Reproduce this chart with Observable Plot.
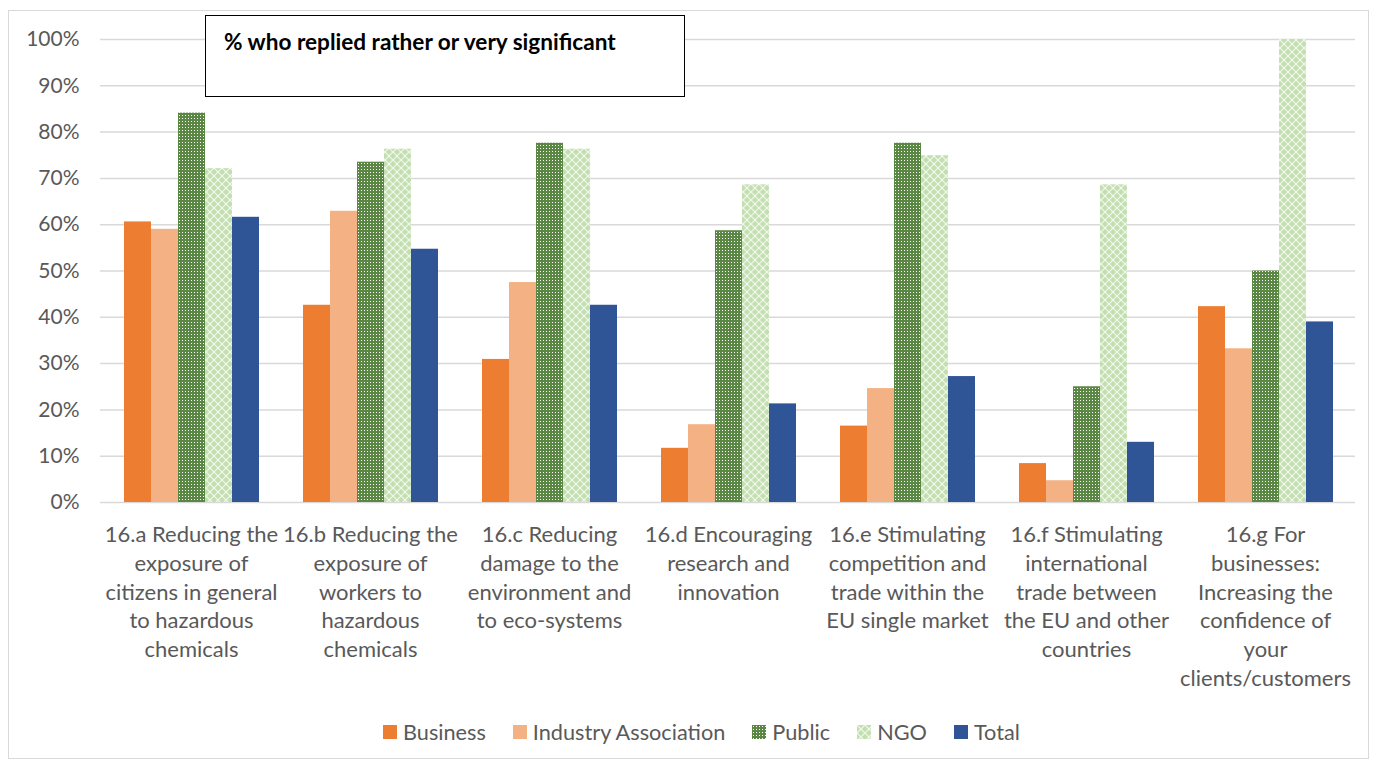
<!DOCTYPE html>
<html>
<head>
<meta charset="utf-8">
<script src="https://cdn.jsdelivr.net/npm/d3@7"></script>
<script src="https://cdn.jsdelivr.net/npm/@observablehq/plot@0.6"></script>
<style>
  html, body { margin: 0; padding: 0; background: #ffffff; }
  #wrap { position: relative; width: 1375px; height: 764px; overflow: hidden; font-family: Lato, "Open Sans", sans-serif; }
  #frame { position: absolute; left: 8px; top: 10px; width: 1361px; height: 749px; border: 1px solid #d9d9d9; box-sizing: border-box; }
  .layer { position: absolute; left: 0; top: 0; }
  #titlebox { position: absolute; left: 205px; top: 15px; width: 480px; height: 82px; border: 1.5px solid #000; background: #fff; box-sizing: border-box; }
  #titlebox span { position: absolute; left: 18px; top: 12px; font-weight: bold; font-size: 22.6px; color: #000; white-space: nowrap; font-family: Lato, sans-serif; }
  #legend { position: absolute; left: 383px; top: 719px; display: flex; align-items: center; font-size: 21.7px; color: #595959; white-space: nowrap; }
  #legend .item { display: flex; align-items: center; margin-right: 27px; }
  #legend svg { margin-right: 6px; display: block; }
</style>
</head>
<body>
<svg width="0" height="0" style="position:absolute">
  <defs>
    <pattern id="patPublic" width="3" height="3" patternUnits="userSpaceOnUse">
      <rect width="3" height="3" fill="#5b8744"></rect>
      <rect x="1" y="1" width="1" height="1" fill="#ffffff"></rect>
    </pattern>
    <pattern id="patNGO" width="8" height="8" patternUnits="userSpaceOnUse">
      <rect width="8" height="8" fill="#c3dfb0"></rect>
      <path d="M0,0 L8,8 M8,0 L0,8" stroke="#ffffff" stroke-width="1.2" stroke-opacity="0.75"></path>
      <rect x="3.5" y="3.5" width="1" height="1" fill="#ffffff"></rect>
    </pattern>
  </defs>
</svg>
<div id="wrap">
  <div id="frame"></div>
  <div id="bg" class="layer"></div>
  <div id="fg" class="layer"></div>
  <div id="titlebox"><span>% who replied rather or very significant</span></div>
  <div id="legend"></div>
</div>
<script>
const categories = ["16.a", "16.b", "16.c", "16.d", "16.e", "16.f", "16.g"];
const categoryLabels = [
  "16.a Reducing the\nexposure of\ncitizens in general\nto hazardous\nchemicals",
  "16.b Reducing the\nexposure of\nworkers to\nhazardous\nchemicals",
  "16.c Reducing\ndamage to the\nenvironment and\nto eco-systems",
  "16.d Encouraging\nresearch and\ninnovation",
  "16.e Stimulating\ncompetition and\ntrade within the\nEU single market",
  "16.f Stimulating\ninternational\ntrade between\nthe EU and other\ncountries",
  "16.g For\nbusinesses:\nIncreasing the\nconfidence of\nyour\nclients/customers"
];
const series = ["Business", "Industry Association", "Public", "NGO", "Total"];
const business            = [60.6, 42.6, 30.9, 11.7, 16.5, 8.4, 42.3];
const industryAssociation = [59.0, 62.9, 47.5, 16.8, 24.6, 4.7, 33.2];
const publicBodies        = [84.1, 73.5, 77.6, 58.7, 77.6, 25.0, 50.0];
const ngo                 = [72.1, 76.3, 76.3, 68.6, 74.9, 68.6, 100.0];
const total               = [61.6, 54.7, 42.6, 21.3, 27.2, 13.0, 39.0];
const yTicks = [0, 10, 20, 30, 40, 50, 60, 70, 80, 90, 100];
const seriesFills = ["#ED7D31", "#F4B183", "url(#patPublic)", "url(#patNGO)", "#2F5597"];

const seriesValues = [business, industryAssociation, publicBodies, ngo, total];
const data = [];
categories.forEach((c, i) => {
  series.forEach((s, j) => data.push({cat: c, series: s, value: seriesValues[j][i]}));
});
const labelMap = Object.fromEntries(categories.map((c, i) => [c, categoryLabels[i]]));

const W = 1375, H = 705, ML = 100, MR = 20, MT = 39, MB = 203;

const bg = Plot.plot({
  width: W, height: H, marginLeft: ML, marginRight: MR, marginTop: MT, marginBottom: MB,
  style: "background: transparent; font-family: Lato, sans-serif;",
  y: {domain: [0, 100], axis: null},
  marks: [
    Plot.ruleY(yTicks, {stroke: "#d9d9d9", strokeWidth: 1.5}),
    Plot.axisY(yTicks, {tickSize: 0, tickPadding: 21, tickFormat: d => d + "%", fontSize: 21, fill: "#595959", label: null})
  ]
});
document.getElementById("bg").appendChild(bg);

const fg = Plot.plot({
  width: W, height: H, marginLeft: ML, marginRight: MR, marginTop: MT, marginBottom: MB,
  style: "background: transparent; font-family: Lato, sans-serif; overflow: visible;",
  fx: {domain: categories, paddingInner: 0.23, paddingOuter: 0.115, label: null, axis: null},
  x: {domain: series, padding: 0, axis: null},
  y: {domain: [0, 100], axis: null},
  color: {domain: series, range: seriesFills},
  marks: [
    Plot.barY(data, {fx: "cat", x: "series", y: "value", fill: "series", inset: 0}),
    Plot.axisFx({anchor: "bottom", tickSize: 0, tickPadding: 19, fontSize: 22, lineHeight: 1.31, fill: "#595959", tickFormat: d => labelMap[d], label: null})
  ]
});
document.getElementById("fg").appendChild(fg);

const legend = d3.select("#legend");
series.forEach((s, i) => {
  const item = legend.append("div").attr("class", "item");
  const sw = item.append("svg").attr("width", 14).attr("height", 14);
  sw.append("rect").attr("width", 14).attr("height", 14).attr("fill", seriesFills[i]);
  item.append("span").text(s);
});
</script>
</body>
</html>
